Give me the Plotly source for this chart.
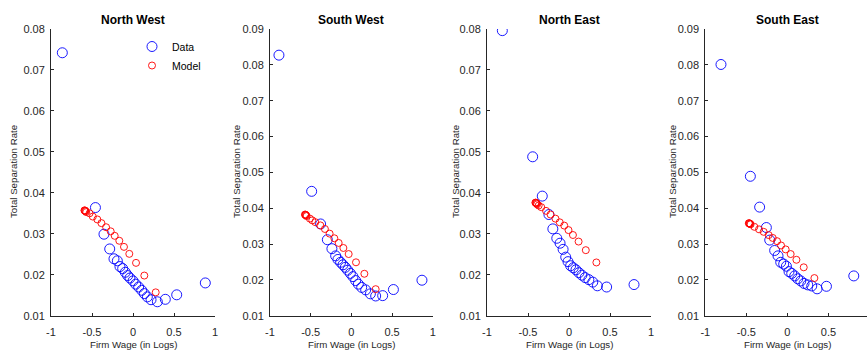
import plotly.graph_objects as go

regions = ["North West", "South West", "North East", "South East"]

# Data (binned observations)
nw_data_x = [-0.862, -0.458, -0.354, -0.284, -0.232, -0.191, -0.159, -0.126, -0.094, -0.065, -0.037, 0.0, 0.033, 0.069, 0.106, 0.138, 0.175, 0.220, 0.297, 0.394, 0.533, 0.882]
nw_data_y = [0.0742, 0.0364, 0.0299, 0.0263, 0.0239, 0.0234, 0.0220, 0.0215, 0.0206, 0.0198, 0.0192, 0.0185, 0.0177, 0.0170, 0.0162, 0.0154, 0.0146, 0.0139, 0.0134, 0.0140, 0.0151, 0.0180]
nw_model_x = [-0.592, -0.588, -0.583, -0.578, -0.570, -0.530, -0.490, -0.435, -0.385, -0.328, -0.272, -0.223, -0.167, -0.110, -0.045, 0.037, 0.138, 0.277]
nw_model_y = [0.0357, 0.0357, 0.0356, 0.0355, 0.0353, 0.0350, 0.0342, 0.0335, 0.0326, 0.0316, 0.0306, 0.0295, 0.0283, 0.0268, 0.0251, 0.0229, 0.0198, 0.0157]

sw_data_x = [-0.890, -0.488, -0.378, -0.295, -0.239, -0.193, -0.165, -0.132, -0.103, -0.074, -0.045, -0.012, 0.020, 0.053, 0.086, 0.127, 0.176, 0.234, 0.299, 0.385, 0.517, 0.868]
sw_data_y = [0.0827, 0.0447, 0.0356, 0.0312, 0.0287, 0.0267, 0.0257, 0.0249, 0.0242, 0.0235, 0.0227, 0.0218, 0.0209, 0.0198, 0.0188, 0.0179, 0.0172, 0.0161, 0.0155, 0.0156, 0.0173, 0.0199]
sw_model_x = [-0.570, -0.566, -0.562, -0.556, -0.550, -0.510, -0.480, -0.443, -0.381, -0.325, -0.267, -0.209, -0.156, -0.098, -0.033, 0.057, 0.160, 0.299]
sw_model_y = [0.0382, 0.0382, 0.0381, 0.0380, 0.0378, 0.0371, 0.0366, 0.0361, 0.0352, 0.0342, 0.0329, 0.0316, 0.0303, 0.0289, 0.0272, 0.0249, 0.0217, 0.0174]

ne_data_x = [-0.813, -0.443, -0.326, -0.245, -0.197, -0.149, -0.109, -0.072, -0.040, -0.012, 0.020, 0.052, 0.085, 0.121, 0.157, 0.197, 0.242, 0.290, 0.346, 0.459, 0.793]
ne_data_y = [0.0796, 0.0488, 0.0392, 0.0347, 0.0312, 0.0289, 0.0277, 0.0262, 0.0243, 0.0232, 0.0222, 0.0217, 0.0212, 0.0205, 0.0199, 0.0193, 0.0188, 0.0182, 0.0173, 0.0170, 0.0176]
ne_model_x = [-0.410, -0.405, -0.400, -0.395, -0.388, -0.370, -0.338, -0.280, -0.225, -0.165, -0.113, -0.058, -0.006, 0.048, 0.117, 0.205, 0.334]
ne_model_y = [0.0376, 0.0376, 0.0375, 0.0374, 0.0372, 0.0369, 0.0365, 0.0356, 0.0347, 0.0337, 0.0328, 0.0320, 0.0309, 0.0297, 0.0281, 0.0260, 0.0230]

se_data_x = [-0.809, -0.451, -0.338, -0.256, -0.215, -0.155, -0.114, -0.081, -0.045, -0.012, 0.020, 0.053, 0.089, 0.126, 0.163, 0.203, 0.248, 0.297, 0.362, 0.476, 0.809]
se_data_y = [0.0801, 0.0489, 0.0403, 0.0346, 0.0311, 0.0282, 0.0267, 0.0249, 0.0244, 0.0238, 0.0223, 0.0218, 0.0211, 0.0203, 0.0197, 0.0190, 0.0186, 0.0183, 0.0175, 0.0182, 0.0211]
se_model_x = [-0.470, -0.465, -0.460, -0.455, -0.448, -0.402, -0.345, -0.289, -0.228, -0.179, -0.126, -0.077, -0.021, 0.040, 0.110, 0.199, 0.329]
se_model_y = [0.0358, 0.0358, 0.0357, 0.0356, 0.0355, 0.0348, 0.0341, 0.0334, 0.0325, 0.0317, 0.0308, 0.0296, 0.0285, 0.0272, 0.0256, 0.0235, 0.0205]

x_tickvals = [-1, -0.5, 0, 0.5, 1]
x_ticktext = ["-1", "-0.5", "0", "0.5", "1"]
y_top = [0.08, 0.09, 0.08, 0.09]
x_right = [1, 1, 1, 0.97]

W, H = 867, 350
x_dom_px = [(51, 215), (270, 432.7), (487, 651), (705.3, 867)]
y_dom_px = (29, 315.7)
ylab_px = [13, 236, 455, 672]

FONT = "Liberation Sans, Arial, Helvetica, sans-serif"
AX = "#262626"
BLUE = "rgb(0,0,255)"
RED = "rgb(255,0,0)"

series = [
    (nw_data_x, nw_data_y, nw_model_x, nw_model_y),
    (sw_data_x, sw_data_y, sw_model_x, sw_model_y),
    (ne_data_x, ne_data_y, ne_model_x, ne_model_y),
    (se_data_x, se_data_y, se_model_x, se_model_y),
]

fig = go.Figure()
annotations = []
layout = {}
for i, (dx, dy, mx, my) in enumerate(series):
    n = "" if i == 0 else str(i + 1)
    xa, ya = "x" + n, "y" + n
    fig.add_trace(go.Scatter(
        x=dx, y=dy, xaxis=xa, yaxis=ya, mode="markers", name="Data",
        showlegend=(i == 0),
        marker=dict(symbol="circle-open", size=10, color=BLUE, line=dict(width=0.9, color=BLUE)),
    ))
    fig.add_trace(go.Scatter(
        x=mx, y=my, xaxis=xa, yaxis=ya, mode="markers", name="Model",
        showlegend=(i == 0),
        marker=dict(symbol="circle-open", size=7, color=RED, line=dict(width=0.9, color=RED)),
    ))
    x0, x1 = x_dom_px[i]
    layout["xaxis" + n] = dict(
        domain=[x0 / W, min(x1 / W, 1.0)], range=[-1, x_right[i]], anchor=ya,
        tickvals=x_tickvals, ticktext=x_ticktext, ticks="inside", ticklen=3,
        tickcolor=AX, linecolor=AX, linewidth=1, showline=True, showgrid=False,
        zeroline=False, tickfont=dict(family=FONT, size=11, color=AX), automargin=False,
        ticklabelstandoff=6,
    )
    layout["yaxis" + n] = dict(
        domain=[(H - y_dom_px[1]) / H, (H - y_dom_px[0]) / H], range=[0.01, y_top[i]],
        anchor=xa, dtick=0.01, tick0=0, tickformat=".2f", ticks="inside", ticklen=3,
        tickcolor=AX, linecolor=AX, linewidth=1, showline=True, showgrid=False,
        zeroline=False, tickfont=dict(family=FONT, size=11, color=AX), automargin=False,
        ticklabelstandoff=3,
    )
    annotations.append(dict(
        text="<b>" + regions[i] + "</b>", xref=xa, x=0, yref="paper", y=(H - 20) / H,
        xanchor="center", yanchor="middle", showarrow=False,
        font=dict(family=FONT, size=12, color="black"),
    ))
    annotations.append(dict(
        text="Firm Wage (in Logs)", xref=xa, x=0, yref="paper", y=(H - 344) / H,
        xanchor="center", yanchor="middle", showarrow=False,
        font=dict(family=FONT, size=9.7, color=AX),
    ))
    annotations.append(dict(
        text="Total Separation Rate", xref="paper", x=ylab_px[i] / W, yref="paper",
        y=(H - 172) / H, xanchor="center", yanchor="middle", textangle=-90, showarrow=False,
        font=dict(family=FONT, size=9.7, color=AX),
    ))

fig.update_layout(
    width=W, height=H, margin=dict(l=0, r=0, t=0, b=0),
    paper_bgcolor="white", plot_bgcolor="white",
    annotations=annotations,
    showlegend=True,
    legend=dict(x=132 / W, y=(H - 32) / H, xanchor="left", yanchor="top",
                bgcolor="rgba(0,0,0,0)", font=dict(family=FONT, size=10.5, color="black"),
                tracegroupgap=0),
    **layout,
)

fig.write_html("out.html")
